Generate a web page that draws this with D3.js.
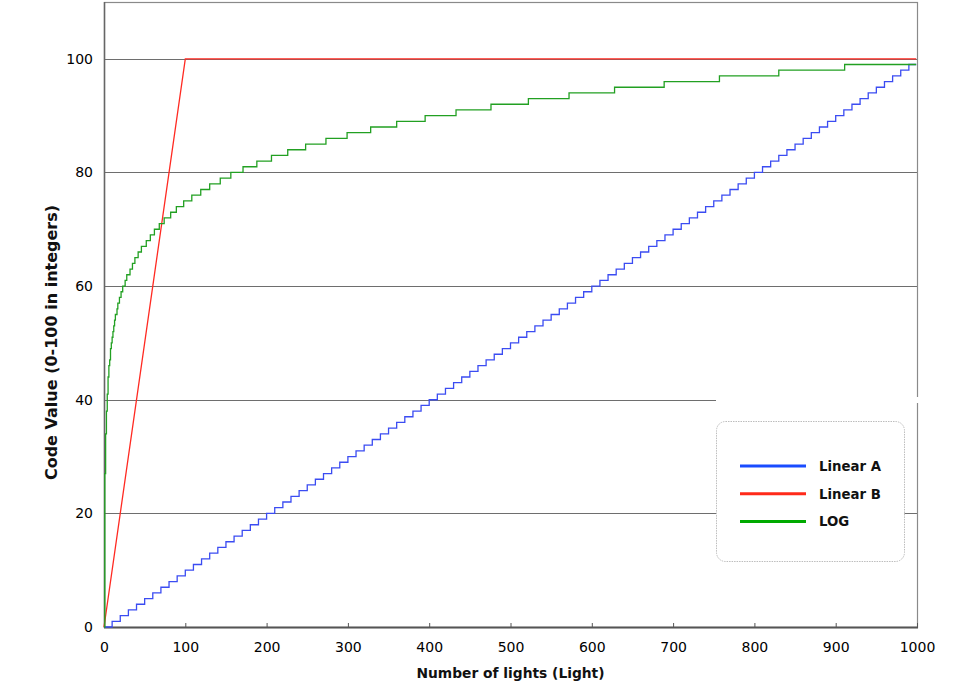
<!DOCTYPE html>
<html>
<head>
<meta charset="utf-8">
<script src="https://cdn.jsdelivr.net/npm/d3@7"></script>
<style>
  html, body { margin: 0; padding: 0; background: #fff; }
  svg { display: block; }
</style>
</head>
<body>
<svg id="chart" width="960" height="683"></svg>
<script>
// ---------------- data ----------------
const xTicks = [0, 100, 200, 300, 400, 500, 600, 700, 800, 900, 1000];
const yTicks = [0, 20, 40, 60, 80, 100];
const seriesNames = ["Linear A", "Linear B", "LOG"];
const seriesColors = ["#3b4cf2", "#ff2a22", "#22a022"];
const legendColors = ["#1a4cff", "#ff2a1a", "#00aa00"];

// Linear A: lights at which the code value steps up, and the code value
const linearAX = [0,10,20,30,40,50,60,70,80,90,100,110,120,130,140,150,160,170,180,190,
  200,210,220,230,240,250,260,270,280,290,300,310,320,330,340,350,360,370,380,390,
  400,410,420,430,440,450,460,470,480,490,500,510,520,530,540,550,560,570,580,590,
  600,610,620,630,640,650,660,670,680,690,700,710,720,730,740,750,760,770,780,790,
  800,810,820,830,840,850,860,870,880,890,900,910,920,930,940,950,960,970,980,990,999];
const linearAY = [0,1,2,3,4,5,6,7,8,9,10,11,12,13,14,15,16,17,18,19,
  20,21,22,23,24,25,26,27,28,29,30,31,32,33,34,35,36,37,38,39,
  40,41,42,43,44,45,46,47,48,49,50,51,52,53,54,55,56,57,58,59,
  60,61,62,63,64,65,66,67,68,69,70,71,72,73,74,75,76,77,78,79,
  80,81,82,83,84,85,86,87,88,89,90,91,92,93,94,95,96,97,98,99,99];

// Linear B: rises to 100 at 100 lights, then flat
const linearBX = [0, 100, 999];
const linearBY = [0, 100, 100];

// LOG: lights at which the code value steps up, and the code value
const logX = [0,1,2,3,4,5,6,7,8,9,10,11,12,13,14,16,17,19,21,23,26,28,32,35,38,42,46,52,57,62,
  68,74,82,89,98,108,119,130,143,156,171,188,206,226,248,273,299,328,360,395,
  433,476,522,572,628,689,757,830,911,999];
const logY = [0,27,34,38,41,44,46,47,49,50,51,52,53,54,55,56,57,58,59,60,61,62,63,64,65,66,67,68,69,70,
  71,72,73,74,75,76,77,78,79,80,81,82,83,84,85,86,87,88,89,90,
  91,92,93,94,95,96,97,98,99,99];

// ---------------- drawing ----------------
const svg = d3.select("#chart");
const L = 104, R = 917, T = 2, B = 627;
const x = d3.scaleLinear().domain([0, 1000]).range([L, R]);
const y = d3.scaleLinear().domain([0, 110]).range([B, T]);
const px = v => Math.round(v) + 0.5;

// grid lines
svg.append("g").selectAll("line").data(yTicks.filter(d => d > 0)).join("line")
  .attr("x1", L).attr("x2", R)
  .attr("y1", d => px(y(d))).attr("y2", d => px(y(d)))
  .attr("stroke", "#6e6e6e").attr("stroke-width", 1);

// frame
svg.append("rect")
  .attr("x", L + 0.5).attr("y", T + 0.5)
  .attr("width", R - L).attr("height", B - T)
  .attr("fill", "none").attr("stroke", "#8a8a8a").attr("stroke-width", 1.2);
svg.append("line").attr("x1", L).attr("x2", R + 1).attr("y1", B + 0.5).attr("y2", B + 0.5)
  .attr("stroke", "#555").attr("stroke-width", 2);
svg.append("line").attr("x1", L + 0.5).attr("x2", L + 0.5).attr("y1", T).attr("y2", B + 1)
  .attr("stroke", "#666").attr("stroke-width", 1.5);

// axes
const tickFont = "DejaVu Sans, Verdana, sans-serif";
const xAxis = d3.axisBottom(x).tickValues(xTicks).tickFormat(d3.format("d"))
  .tickSizeInner(-4).tickSizeOuter(0).tickPadding(15);
const gx = svg.append("g").attr("transform", `translate(0,${B})`).call(xAxis);
gx.select(".domain").remove();
gx.selectAll(".tick line").attr("stroke", "#555");
gx.selectAll("text").attr("font-family", tickFont)
  .attr("font-size", 14).attr("fill", "#000");

const yAxis = d3.axisLeft(y).tickValues(yTicks).tickFormat(d3.format("d"))
  .tickSizeInner(0).tickSizeOuter(0).tickPadding(11);
const gy = svg.append("g").attr("transform", `translate(${L},0)`).call(yAxis);
gy.select(".domain").remove();
gy.selectAll("text").attr("font-family", tickFont)
  .attr("font-size", 14).attr("fill", "#000");

// axis titles
svg.append("text").attr("x", (L + R) / 2).attr("y", 678).attr("text-anchor", "middle")
  .attr("font-family", "DejaVu Sans, Verdana, sans-serif").attr("font-weight", "bold")
  .attr("font-size", 13.8).attr("fill", "#111").text("Number of lights (Light)");
svg.append("text").attr("transform", `translate(57,${(205 + 480) / 2}) rotate(-90)`)
  .attr("text-anchor", "middle")
  .attr("font-family", "DejaVu Sans, Verdana, sans-serif").attr("font-weight", "bold")
  .attr("font-size", 16).attr("fill", "#111").text("Code Value (0-100 in integers)");

// series
const stepLine = d3.line().x(d => x(d[0])).y(d => y(d[1])).curve(d3.curveStepAfter);
const straightLine = d3.line().x(d => x(d[0])).y(d => y(d[1]));
const series = [
  { pts: d3.zip(linearAX, linearAY), gen: stepLine },
  { pts: d3.zip(linearBX, linearBY), gen: straightLine },
  { pts: d3.zip(logX, logY), gen: stepLine }
];
series.forEach((s, i) => {
  svg.append("path").attr("d", s.gen(s.pts))
    .attr("fill", "none").attr("stroke", seriesColors[i]).attr("stroke-width", 1.3);
});

// legend
svg.append("rect").attr("x", 716).attr("y", 397).attr("width", 210).attr("height", 6).attr("fill", "#fff");
svg.append("rect").attr("x", 716.5).attr("y", 421.5).attr("width", 188).attr("height", 140)
  .attr("rx", 9).attr("ry", 9)
  .attr("fill", "#fff").attr("stroke", "#bdbdbd").attr("stroke-width", 1).attr("stroke-dasharray", "1.5,1");
const lg = svg.append("g").selectAll("g").data(seriesNames).join("g")
  .attr("transform", (d, i) => `translate(0,${466 + i * 27.7})`);
lg.append("line").attr("x1", 740).attr("x2", 806).attr("y1", 0).attr("y2", 0)
  .attr("stroke", (d, i) => legendColors[i]).attr("stroke-width", 3);
lg.append("text").attr("x", 819).attr("y", 5)
  .attr("font-family", "DejaVu Sans, Verdana, sans-serif").attr("font-weight", "bold")
  .attr("font-size", 13.3).attr("fill", "#111").text(d => d);
</script>
</body>
</html>
